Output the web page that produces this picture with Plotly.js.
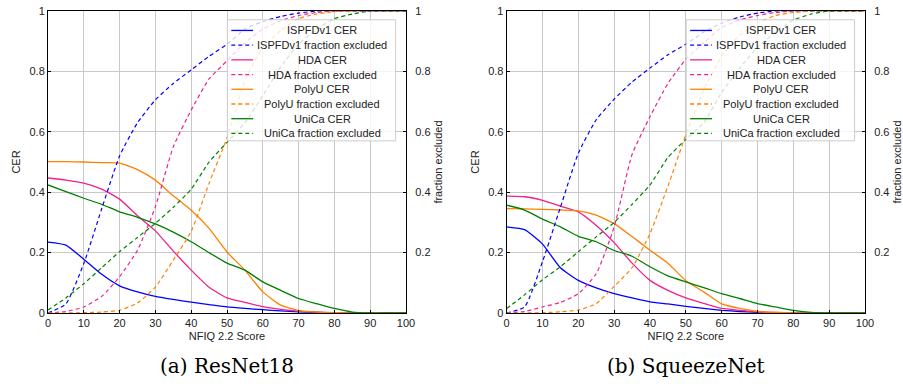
<!DOCTYPE html>
<html><head><meta charset="utf-8">
<script src="https://cdn.plot.ly/plotly-3.0.1.min.js"></script>
<style>html,body{margin:0;padding:0;background:#fff;} #chart{width:903px;height:389px;}</style>
</head><body><div id="chart"></div>
<script>
// ---- data ----
const nfiqScore = [0,5,10,15,20,25,30,35,40,45,50,55,60,65,70,75,80,85,90,95,100];
const datasetNames = ["ISPFDv1","HDA","PolyU","UniCa"];
const panelCaptions = ["(a) ResNet18","(b) SqueezeNet"];
const xTitle = "NFIQ 2.2 Score";
const yTitleLeft = "CER";
const yTitleRight = "fraction excluded";

// (a) ResNet18
const resnet_cer_ISPFDv1 = [0.235,0.225,0.178,0.128,0.090,0.070,0.055,0.045,0.036,0.028,0.020,0.015,0.011,0.007,0.004,0.002,0.001,0,0,0,0];
const resnet_cer_HDA     = [0.447,0.440,0.430,0.410,0.377,0.322,0.272,0.205,0.142,0.085,0.050,0.035,0.021,0.012,0.006,0.003,0.001,0,0,0,0];
const resnet_cer_PolyU   = [0.501,0.501,0.500,0.498,0.496,0.475,0.440,0.388,0.340,0.280,0.202,0.142,0.070,0.026,0.008,0.003,0.001,0,0,0,0];
const resnet_cer_UniCa   = [0.424,0.402,0.380,0.360,0.335,0.317,0.295,0.268,0.236,0.200,0.165,0.142,0.103,0.075,0.048,0.031,0.015,0.003,0,0,0];
const resnet_exc_ISPFDv1 = [0,0.030,0.164,0.345,0.520,0.630,0.706,0.760,0.805,0.850,0.890,0.940,0.965,0.982,0.993,1,1,1,1,1,1];
const resnet_exc_HDA     = [0,0.005,0.020,0.055,0.120,0.208,0.352,0.550,0.672,0.775,0.835,0.895,0.940,0.968,0.985,0.995,1,1,1,1,1];
const resnet_exc_PolyU   = [0,0,0.001,0.003,0.009,0.033,0.086,0.175,0.270,0.430,0.580,0.770,0.880,0.935,0.975,0.990,0.998,1,1,1,1];
const resnet_exc_UniCa   = [0.010,0.050,0.097,0.150,0.203,0.250,0.297,0.350,0.410,0.500,0.565,0.630,0.720,0.815,0.890,0.940,0.975,0.990,1,1,1];

// (b) SqueezeNet
const squeeze_cer_ISPFDv1 = [0.285,0.276,0.228,0.150,0.108,0.083,0.064,0.050,0.037,0.030,0.022,0.015,0.009,0.005,0.002,0.001,0,0,0,0,0];
const squeeze_cer_HDA     = [0.387,0.385,0.373,0.354,0.335,0.290,0.233,0.165,0.108,0.075,0.050,0.032,0.015,0.009,0.004,0.002,0,0,0,0,0];
const squeeze_cer_PolyU   = [0.346,0.345,0.343,0.341,0.338,0.324,0.296,0.253,0.208,0.165,0.107,0.070,0.030,0.015,0.005,0.002,0,0,0,0,0];
const squeeze_cer_UniCa   = [0.357,0.341,0.311,0.285,0.254,0.236,0.207,0.188,0.153,0.123,0.103,0.084,0.064,0.048,0.031,0.020,0.009,0.002,0,0,0];
const squeeze_exc_ISPFDv1 = [0,0.020,0.170,0.350,0.529,0.640,0.708,0.765,0.811,0.855,0.890,0.930,0.960,0.980,0.993,1,1,1,1,1,1];
const squeeze_exc_HDA     = [0,0.005,0.020,0.035,0.064,0.130,0.285,0.525,0.650,0.760,0.840,0.895,0.945,0.970,0.985,0.995,1,1,1,1,1];
const squeeze_exc_PolyU   = [0,0,0.001,0.004,0.010,0.031,0.088,0.150,0.263,0.420,0.590,0.740,0.850,0.920,0.960,0.985,0.995,1,1,1,1];
const squeeze_exc_UniCa   = [0.015,0.060,0.110,0.153,0.203,0.252,0.300,0.360,0.424,0.515,0.575,0.630,0.730,0.810,0.880,0.930,0.970,0.990,1,1,1];

// ---- styles ----
const lineColors = ["#0000ff","#f0208c","#ff8000","#008000"];
const DASH = "4px,3px";
const FONT = "Liberation Sans, Arial, sans-serif";
const TXT = "#222";

const panels = [
  {cer:[resnet_cer_ISPFDv1,resnet_cer_HDA,resnet_cer_PolyU,resnet_cer_UniCa],
   exc:[resnet_exc_ISPFDv1,resnet_exc_HDA,resnet_exc_PolyU,resnet_exc_UniCa],
   xa:'x', ya:'y', ya2:'y2', xd:'x domain', yd:'y domain'},
  {cer:[squeeze_cer_ISPFDv1,squeeze_cer_HDA,squeeze_cer_PolyU,squeeze_cer_UniCa],
   exc:[squeeze_exc_ISPFDv1,squeeze_exc_HDA,squeeze_exc_PolyU,squeeze_exc_UniCa],
   xa:'x2', ya:'y3', ya2:'y4', xd:'x2 domain', yd:'y3 domain'}
];

const traces = [];
const shapes = [];
const annotations = [];

panels.forEach((p, pi) => {
  datasetNames.forEach((nm, i) => {
    traces.push({x:nfiqScore, y:p.cer[i], xaxis:p.xa, yaxis:p.ya, type:'scatter', mode:'lines',
      name:nm+' CER', showlegend:false, line:{color:lineColors[i], width:1.3, shape:'spline', smoothing:0.5}});
    traces.push({x:nfiqScore, y:p.exc[i], xaxis:p.xa, yaxis:p.ya2, type:'scatter', mode:'lines',
      name:nm+' fraction excluded', showlegend:false, line:{color:lineColors[i], width:1.2, dash:DASH, shape:'spline', smoothing:0.5}});
  });
  // legend box
  shapes.push({type:'rect', xref:p.xd, yref:p.yd, x0:0.501, x1:0.971, y0:0.570, y1:0.971,
    fillcolor:'rgba(255,255,255,0.8)', line:{color:'#cccccc', width:1}, layer:'above'});
  const labels = [];
  datasetNames.forEach((nm,i)=>{ labels.push([nm+' CER', i, 'solid']); labels.push([nm+' fraction excluded', i, DASH]); });
  labels.forEach((lb, k) => {
    const yy = 0.9356 - k*0.0487;
    shapes.push({type:'line', xref:p.xd, yref:p.yd, x0:0.512, x1:0.573, y0:yy, y1:yy,
      line:{color:lineColors[lb[1]], width:1.3, dash:lb[2]}, layer:'above'});
    annotations.push({xref:p.xd, yref:p.yd, x:0.766, y:yy, text:lb[0], showarrow:false,
      xanchor:'center', yanchor:'middle', font:{family:FONT, size:11, color:TXT}});
  });
  annotations.push({xref:p.xd, yref:'paper', x:0.5, y:-0.177, text:panelCaptions[pi], showarrow:false,
    xanchor:'center', yanchor:'middle', font:{family:'DejaVu Serif, serif', size:20, color:'#000'}});
});

const gridC = '#c8c8c8';
function xAxis(dom, anchor){
  return {domain:dom, anchor:anchor, range:[0,100], dtick:10, tick0:0, showgrid:true, gridcolor:gridC, gridwidth:1,
    zeroline:false, showline:true, mirror:true, linecolor:'#000', linewidth:1, ticks:'inside', ticklen:3, tickcolor:'#000',
    tickfont:{family:FONT, size:11, color:TXT}, title:{text:xTitle, font:{family:FONT, size:11, color:TXT}, standoff:4}};
}
function yLeft(anchor){
  return {domain:[0,1], anchor:anchor, range:[0,1], dtick:0.2, tick0:0, showgrid:true, gridcolor:gridC, gridwidth:1,
    zeroline:false, showline:true, mirror:true, linecolor:'#000', linewidth:1, ticks:'inside', ticklen:3, tickcolor:'#000',
    tickfont:{family:FONT, size:11, color:TXT}, title:{text:yTitleLeft, font:{family:FONT, size:11, color:TXT}, standoff:6}};
}
function yRight(over, anchor){
  return {overlaying:over, side:'right', anchor:anchor, range:[0,1], tickvals:[0.2,0.4,0.6,0.8,1], showgrid:false,
    zeroline:false, showline:true, linecolor:'#000', linewidth:1, ticks:'inside', ticklen:3, tickcolor:'#000',
    tickfont:{family:FONT, size:11, color:TXT}, ticklabelstandoff:6,
    title:{text:yTitleRight, font:{family:FONT, size:11, color:TXT}, standoff:4}};
}

const layout = {
  width:903, height:389, margin:{l:48, r:38, t:11, b:76},
  paper_bgcolor:'#fff', plot_bgcolor:'#fff', showlegend:false,
  xaxis: xAxis([0,0.4382],'y'),
  yaxis: yLeft('x'),
  yaxis2: yRight('y','x'),
  xaxis2: xAxis([0.5614,1],'y3'),
  yaxis3: yLeft('x2'),
  yaxis4: yRight('y3','x2'),
  shapes: shapes, annotations: annotations
};

Plotly.newPlot('chart', traces, layout, {displayModeBar:false, staticPlot:true});
</script></body></html>
